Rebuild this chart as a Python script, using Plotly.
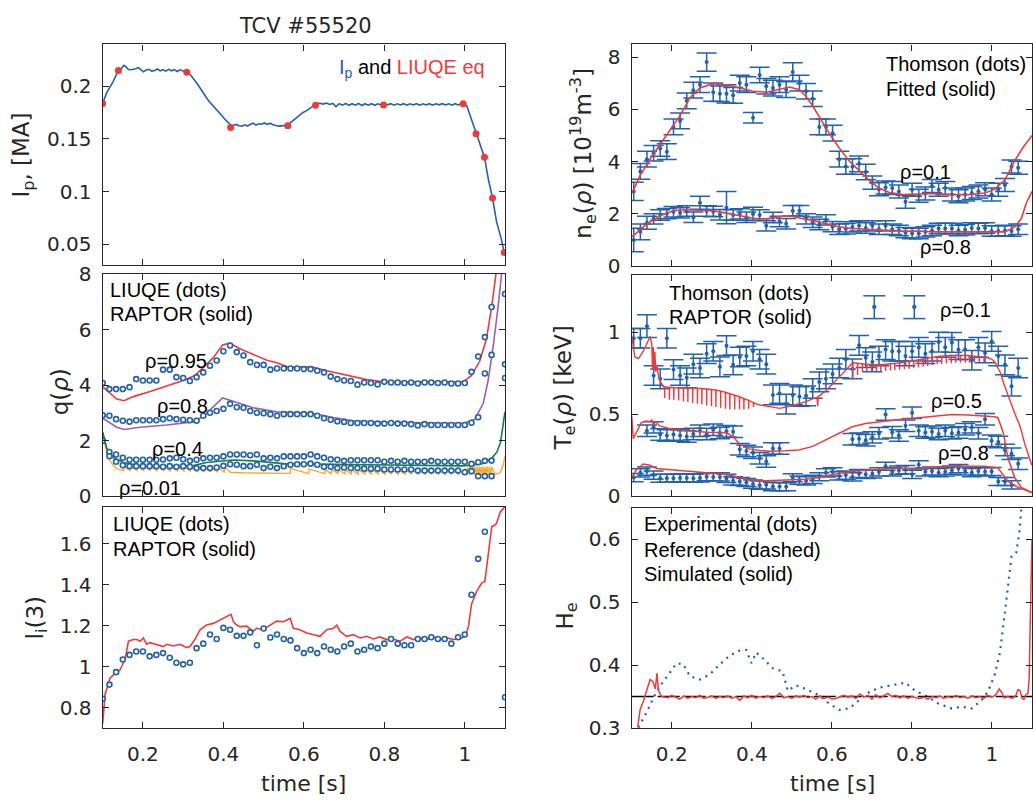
import numpy as np
import plotly.graph_objects as go

nan = float("nan")
W, H = 1033, 807
BLUE = "#2161b1"
RED = "#f03a3a"
PURPLE = "#9e5db5"
GREEN = "#1b7d3c"
ORANGE = "#ffa826"
AX = "#262626"

# ---------------- time grids ----------------
liuqe_t = [round(0.1 + i / 60, 4) for i in range(61)]
thomson_t = [round(0.105 + k * 0.01656, 4) for k in range(60)]

# ---------------- Ip panel ----------------
ip_t = [0.100,0.105,0.110,0.118,0.126,0.135,0.143,0.153,0.158,0.164,0.170,0.176,0.182,0.189,0.195,0.201,0.208,0.215,0.222,0.229,
        0.236,0.243,0.250,0.257,0.264,0.271,0.278,0.285,0.292,0.300,0.309,0.318,0.325,0.334,0.342,0.348,0.354,0.360,0.367,0.375,
        0.383,0.390,0.396,0.402,0.408,0.413,0.418,0.425,0.432,0.439,0.446,0.453,0.460,0.467,0.474,0.481,0.488,0.495,0.502,0.509,
        0.516,0.523,0.530,0.537,0.544,0.551,0.560,0.567,0.574,0.582,0.590,0.598,0.607,0.613,0.619,0.625,0.632,0.640,0.648,0.656,
        0.664,0.672,0.680,0.688,0.696,0.704,0.712,0.720,0.728,0.736,0.744,0.752,0.760,0.768,0.776,0.784,0.792,0.800,0.808,0.816,
        0.824,0.832,0.840,0.848,0.856,0.864,0.872,0.880,0.888,0.896,0.904,0.912,0.920,0.928,0.936,0.944,0.952,0.960,0.968,0.976,
        0.984,0.992,0.996,1.005,1.013,1.020,1.028,1.038,1.049,1.059,1.069,1.079,1.090,1.098,1.100]
ip_v = [0.1838,0.1900,0.1940,0.1994,0.2046,0.2120,0.2153,0.2200,0.2185,0.2160,0.2158,0.2162,0.2168,0.2178,0.2158,0.2138,0.2155,0.2162,0.2145,0.2150,
        0.2165,0.2148,0.2160,0.2145,0.2162,0.2148,0.2160,0.2142,0.2158,0.2145,0.2135,0.2110,0.2077,0.2030,0.1985,0.1950,0.1908,0.1880,0.1847,0.1815,
        0.1786,0.1750,0.1724,0.1695,0.1670,0.1648,0.1633,0.1628,0.1638,0.1625,0.1622,0.1635,0.1622,0.1640,0.1650,0.1632,0.1645,0.1640,0.1652,0.1638,
        0.1650,0.1635,0.1628,0.1622,0.1625,0.1628,0.1630,0.1655,0.1679,0.1705,0.1730,0.1752,0.1770,0.1785,0.1800,0.1815,0.1838,0.1840,0.1832,0.1842,
        0.1828,0.1838,0.1808,0.1835,0.1822,0.1838,0.1820,0.1835,0.1822,0.1838,0.1818,0.1835,0.1822,0.1836,0.1820,0.1834,0.1822,0.1836,0.1825,0.1836,
        0.1822,0.1835,0.1824,0.1836,0.1822,0.1834,0.1823,0.1836,0.1822,0.1835,0.1824,0.1836,0.1822,0.1835,0.1825,0.1836,0.1823,0.1834,0.1822,0.1836,
        0.1824,0.1838,0.1838,0.1816,0.1724,0.1640,0.1550,0.1450,0.1327,0.1110,0.0938,0.0714,0.0560,0.0420,0.0390]
ipeq_t = [0.100,0.139,0.309,0.418,0.560,0.629,0.798,0.996,1.028,1.049,1.069,1.098]
ipeq_v = [0.1838,0.2150,0.2135,0.1610,0.1627,0.1820,0.1822,0.1835,0.1550,0.1327,0.0938,0.0420]

# ---------------- q panel ----------------
q95_dots = [4.08,3.86,3.86,3.86,3.93,4.22,4.17,4.17,4.17,4.56, 4.56,4.29,4.26,4.15,4.29,4.46,4.70,4.89,5.22,5.43,
            5.19,5.07,4.83,4.73,4.73,4.56,4.60,4.60,4.60,4.60, 4.58,4.58,4.52,4.46,4.31,4.22,4.17,4.15,4.02,4.10,
            4.08,4.03,4.12,4.10,4.10,4.08,4.10,4.06,4.10,4.10, 4.08,4.10,4.06,4.06,4.08,4.48,5.03,5.73,6.81,nan, 7.28]
q80_dots = [2.92,2.90,2.78,2.72,2.69,2.74,2.74,2.74,2.74,2.78, 2.81,2.78,2.76,2.74,2.72,2.90,3.01,3.07,3.15,3.33,
            3.21,3.19,3.07,3.01,2.99,2.96,2.90,2.96,2.96,2.96, 2.96,2.96,2.90,2.81,2.76,2.70,2.68,2.64,2.64,2.64,
            2.64,2.62,2.62,2.64,2.62,2.62,2.60,2.55,2.60,2.57, 2.57,2.57,2.57,2.57,2.57,2.65,2.85,4.42,5.09,nan, 4.75]
q40_dots = [2.00,1.60,1.51,1.39,1.32,1.32,1.32,1.32,1.32,1.33, 1.37,1.39,1.34,1.28,1.32,1.37,1.39,1.39,1.44,1.51,
            1.51,1.51,1.48,1.51,1.37,1.39,1.37,1.44,1.44,1.44, 1.44,1.51,1.44,1.39,1.34,1.32,1.28,1.30,1.30,1.30,
            1.30,1.30,1.25,1.28,1.25,1.28,1.25,1.25,1.25,1.28, 1.25,1.25,1.25,1.25,1.25,1.17,1.23,1.28,1.29,nan, 4.26]
q01_dots = [2.00,1.45,1.25,1.12,1.09,1.09,1.09,1.09,1.09,1.07, 1.09,1.07,1.09,1.07,1.02,1.02,1.02,1.04,1.10,1.16,
            1.14,1.09,1.09,1.14,1.02,1.07,1.02,1.09,1.14,1.16, 1.16,1.18,1.14,1.07,1.07,1.02,1.04,1.02,1.02,1.00,
            1.00,1.00,0.97,0.97,0.97,0.97,0.97,0.93,0.93,0.93, 0.93,0.93,0.93,0.93,0.87,0.91,0.73,0.73,0.73,nan, nan]

q95_t = [0.100,0.135,0.153,0.176,0.218,0.259,0.300,0.329,0.350,0.375,0.398,0.416,0.441,0.474,0.508,0.532,0.560,0.590,0.624,0.657,
         0.690,0.723,0.756,0.798,0.880,0.996,1.005,1.017,1.037,1.054,1.067,1.077,1.083]
q95_v = [3.94,3.50,3.44,3.59,3.77,3.97,4.17,4.35,4.64,4.99,5.45,5.51,5.31,5.10,4.90,4.81,4.66,4.66,4.64,4.52,
         4.41,4.31,4.20,4.12,4.12,4.13,4.22,4.35,4.86,5.67,6.84,8.00,8.60]
q80_t = [0.100,0.135,0.153,0.193,0.259,0.329,0.358,0.398,0.424,0.474,0.532,0.590,0.624,0.673,0.723,0.798,0.996,1.025,1.046,1.058,
         1.071,1.083,1.092,1.096]
q80_v = [2.81,2.49,2.41,2.49,2.57,2.69,2.99,3.54,3.42,3.19,3.04,2.99,2.98,2.84,2.72,2.67,2.63,2.77,3.35,4.16,
         5.44,6.84,8.00,8.60]
q40_t = [0.100,0.110,0.127,0.152,0.193,0.259,0.325,0.358,0.424,0.474,0.549,0.632,0.756,0.996,1.021,1.042,1.067,1.080,1.089,1.100]
q40_v = [2.32,1.74,1.39,1.22,1.10,1.09,1.11,1.22,1.31,1.28,1.18,1.16,1.14,1.10,1.14,1.17,1.37,1.60,1.95,3.05]

# q(0.01): smooth parts plus sawtooth crashes (time, value before crash, value after crash)
q01_start_t = [0.100,0.105,0.110,0.118,0.127,0.135,0.145]
q01_start_v = [2.30,1.90,1.55,1.28,1.10,1.00,0.95]
q01_saw1_t = [0.152,0.168,0.185,0.202,0.218,0.235,0.252,0.268,0.285,0.302,0.318,0.335,0.352,0.368,0.385,0.402]
q01_saw1_lo = [0.93,0.93,0.93,0.93,0.93,0.92,0.92,0.92,0.92,0.91,0.91,0.90,0.90,0.89,0.89,0.88]
q01_saw1_hi = [1.08,1.08,1.08,1.08,1.07,1.07,1.07,1.07,1.06,1.06,1.06,1.05,1.05,1.05,1.04,1.04]
q01_mid_t = [0.418,0.450,0.500,0.550]
q01_mid_v = [0.87,0.85,0.84,0.83]
q01_saw2_t = [0.566,0.612,0.652,0.668,0.685,0.702,0.718,0.735,0.752,0.768,0.785,0.802,0.818,0.835,0.852,0.868,0.885,0.902,0.918,0.935,0.952,0.968,0.985]
q01_saw2_lo = [0.83,0.82,0.82,0.82,0.82,0.81,0.81,0.81,0.81,0.81,0.81,0.80,0.80,0.80,0.80,0.80,0.80,0.80,0.80,0.80,0.80,0.80,0.80]
q01_saw2_hi = [1.00,0.98,0.97,0.97,0.97,0.96,0.96,0.96,0.96,0.96,0.96,0.96,0.96,0.96,0.96,0.96,0.96,0.96,0.96,0.96,0.96,0.96,0.96]
q01_saw3_t = [1.000,1.006,1.012,1.018,1.024,1.030,1.036,1.042,1.048,1.054,1.060,1.066]
q01_saw3_lo = [0.79,0.78,0.78,0.78,0.78,0.78,0.78,0.78,0.78,0.78,0.78,0.78]
q01_saw3_hi = [1.02,1.06,1.08,1.08,1.08,1.08,1.08,1.08,1.08,1.08,1.08,1.07]
q01_end_t = [1.075,1.080,1.085,1.090,1.095,1.100]
q01_end_v = [0.80,0.82,0.83,0.90,1.10,1.45]

# ---------------- li panel ----------------
li_dots = [0.843,0.912,0.973,1.035,1.057,1.074,1.074,1.050,1.057,1.066, 1.043,1.019,1.011,1.019,1.090,1.112,1.157,1.135,1.189,1.180,
           1.150,1.150,1.167,1.104,1.186,1.142,1.157,1.135,1.128,1.090, 1.066,1.082,1.066,1.098,1.082,1.074,1.098,1.112,1.074,1.082,
           1.098,1.090,1.112,1.135,1.112,1.104,1.104,1.135,1.135,1.143, 1.135,1.135,1.112,1.143,1.157,1.351,1.526,1.658,nan,nan, 0.850]
li_t = [0.100,0.106,0.118,0.131,0.143,0.156,0.164,0.176,0.185,0.193,0.201,0.209,0.218,0.234,0.251,0.259,0.276,0.292,0.309,0.317,
        0.329,0.342,0.358,0.375,0.392,0.408,0.419,0.425,0.433,0.441,0.458,0.474,0.483,0.499,0.516,0.532,0.549,0.566,0.574,0.590,
        0.607,0.624,0.640,0.657,0.673,0.682,0.690,0.706,0.723,0.740,0.756,0.773,0.789,0.806,0.822,0.839,0.856,0.872,0.889,0.905,
        0.922,0.938,0.955,0.972,0.988,1.001,1.009,1.017,1.030,1.042,1.050,1.059,1.067,1.075,1.079,1.088,1.100]
li_v = [0.723,0.865,0.943,0.967,0.983,1.038,1.124,1.132,1.132,1.124,1.140,1.109,1.117,1.109,1.098,1.109,1.101,1.109,1.093,1.098,
        1.132,1.180,1.203,1.211,1.227,1.243,1.255,1.219,1.203,1.195,1.198,1.172,1.187,1.180,1.203,1.222,1.219,1.235,1.187,1.180,
        1.164,1.156,1.148,1.180,1.187,1.203,1.172,1.148,1.156,1.140,1.148,1.135,1.145,1.132,1.135,1.124,1.145,1.132,1.140,1.132,
        1.145,1.132,1.140,1.132,1.135,1.148,1.195,1.306,1.369,1.408,1.416,1.557,1.683,1.691,1.699,1.754,1.781]

# ---------------- ne panel ----------------
ne01_ts = [2.85,3.62,4.09,4.32,4.50,4.38,5.33,5.56,6.33,6.74, 6.95,7.82,6.66,6.60,6.60,6.54,7.01,6.95,5.68,7.32,
           6.89,6.82,6.95,6.76,7.44,7.01,6.70,6.41,5.33,5.33, 5.09,4.09,3.81,3.81,3.91,3.60,3.19,2.94,3.00,2.98,
           2.85,2.46,2.92,2.69,2.77,3.06,2.92,2.98,2.73,2.67, 2.73,2.79,2.85,2.94,2.73,2.92,3.10,3.81,3.76,nan]
ne01_err = [0.35,0.30,0.30,0.30,0.30,0.30,0.30,0.30,0.30,0.30, 0.30,0.35,0.35,0.30,0.35,0.30,0.30,0.30,0.20,0.30,
            0.30,0.30,0.30,0.30,0.35,0.30,0.30,0.30,0.30,0.30, 0.30,0.30,0.30,0.30,0.30,0.30,0.25,0.25,0.25,0.25,
            0.25,0.25,0.25,0.25,0.25,0.25,0.25,0.25,0.25,0.25, 0.25,0.25,0.25,0.25,0.25,0.25,0.25,0.25,0.25,0.25]
ne08_ts = [0.99,1.30,1.65,1.80,1.95,2.00,2.07,2.03,2.10,1.86, 2.42,2.10,2.08,1.96,2.23,1.95,1.99,1.86,1.99,1.95,
           1.53,1.85,1.70,1.61,2.11,2.11,1.80,1.67,1.58,1.76, 1.50,1.40,1.42,1.49,1.53,1.45,1.53,1.40,1.53,1.40,
           1.35,1.27,1.24,1.24,1.30,1.35,1.43,1.43,1.43,1.35, 1.38,1.45,1.43,1.45,1.33,1.33,1.35,1.33,1.40,nan]
ne08_err = [0.45,0.30,0.25,0.20,0.20,0.20,0.20,0.20,0.20,0.20, 0.25,0.20,0.20,0.20,0.62,0.20,0.20,0.20,0.25,0.20,
            0.20,0.20,0.20,0.20,0.20,0.20,0.20,0.20,0.20,0.20, 0.20,0.20,0.20,0.20,0.20,0.20,0.20,0.20,0.20,0.20,
            0.20,0.20,0.20,0.20,0.20,0.20,0.20,0.20,0.20,0.20, 0.20,0.20,0.20,0.20,0.20,0.20,0.20,0.20,0.20,0.20]
ne01_fit_t = [0.101,0.121,0.154,0.188,0.221,0.246,0.270,0.303,0.337,0.370,0.403,0.436,0.469,0.494,0.519,0.535,0.552,0.568,0.593,0.618,
              0.643,0.668,0.693,0.717,0.742,0.775,0.817,0.858,0.900,0.941,0.982,1.007,1.032,1.057,1.077,1.100]
ne01_fit_v = [2.79,3.47,4.28,5.02,5.77,6.45,6.82,6.99,6.95,6.82,6.70,6.66,6.76,6.86,6.76,6.51,6.14,5.71,5.09,4.53,
              4.03,3.66,3.29,2.98,2.82,2.73,2.75,2.77,2.73,2.73,2.79,2.94,3.29,4.03,4.53,5.00]
ne08_fit_t = [0.101,0.138,0.171,0.204,0.229,0.262,0.303,0.337,0.370,0.403,0.436,0.477,0.502,0.527,0.552,0.585,0.618,0.651,0.693,0.734,
              0.775,0.817,0.858,0.900,0.941,0.982,1.032,1.057,1.073,1.086,1.100]
ne08_fit_v = [1.12,1.61,1.92,2.11,2.15,2.12,2.11,2.02,1.92,1.82,1.80,1.90,1.90,1.80,1.74,1.61,1.49,1.43,1.40,1.36,
              1.33,1.33,1.30,1.30,1.30,1.28,1.30,1.49,1.80,2.42,2.85]

# ---------------- Te panel ----------------
te01_ts = [0.964,0.964,1.038,0.737,0.717,0.964,0.773,0.737,0.723,0.806, 0.783,0.870,0.885,0.790,0.919,0.802,0.850,0.856,0.885,0.836,
           0.806,0.619,0.628,0.563,0.619,0.609,0.613,0.658,0.698,0.717, 0.747,0.783,0.836,0.777,0.921,0.846,0.820,0.856,0.895,0.885,
           0.885,0.856,0.885,0.909,0.870,0.885,0.941,0.909,0.939,0.895, 0.895,0.830,0.909,0.875,0.945,0.856,0.802,0.672,0.783,nan]
te05_ts = [nan,nan,0.401,0.421,0.377,0.372,0.377,0.372,0.366,0.381, 0.401,0.381,0.407,0.387,0.397,0.395,0.287,0.277,0.267,0.233,
           0.213,0.292,0.292,nan,nan,nan,nan,nan,nan,nan, nan,nan,nan,0.348,0.352,0.343,0.360,0.385,0.500,0.391,
           0.372,0.431,0.510,0.401,0.390,0.395,0.380,0.400,0.385,0.390, 0.410,0.421,0.385,0.470,0.340,0.332,0.283,0.260,0.200,nan]
te08_ts = [0.115,0.144,0.154,0.130,0.111,0.111,0.111,0.113,0.113,0.111, 0.113,0.120,0.119,0.119,0.110,0.095,0.091,0.085,0.075,0.069,
           0.071,0.060,0.060,0.059,0.114,0.100,0.095,0.104,0.120,0.144, 0.150,0.125,0.130,0.119,0.140,0.135,0.138,0.150,0.184,0.150,
           0.160,0.164,0.134,0.193,0.150,0.155,0.145,0.150,0.160,0.170, 0.155,0.145,0.155,0.150,0.152,0.091,0.091,0.070,nan,nan]
te01_err = [0.06,0.06,0.07,0.06,0.06,0.06,0.06,0.06,0.06,0.06, 0.06,0.06,0.06,0.06,0.06,0.06,0.06,0.06,0.06,0.06,
            0.06,0.06,0.06,0.06,0.06,0.06,0.06,0.06,0.06,0.06, 0.06,0.06,0.06,0.06,0.06,0.06,0.06,0.06,0.06,0.06,
            0.06,0.06,0.06,0.06,0.06,0.06,0.06,0.06,0.06,0.06, 0.06,0.06,0.06,0.06,0.06,0.06,0.06,0.06,0.06,0.06]
te05_err = [0.035] * 60
te08_err = [0.025] * 60

te01_start_t = [0.100,0.108,0.117,0.130,0.146,0.150,0.152,0.154,0.156,0.158,0.160,0.163,0.167,0.172,0.178]
te01_start_v = [0.980,0.850,0.840,0.890,0.975,0.930,0.780,0.910,0.770,0.880,0.760,0.800,0.730,0.700,0.670]
te01_comb1_t = [0.182,0.194,0.205,0.217,0.229,0.240,0.252,0.264,0.275,0.287,0.299,0.310,0.322,0.334,0.345,0.357,0.369,0.380,0.392,0.404]
te01_comb1_top = [0.668,0.665,0.663,0.662,0.660,0.660,0.660,0.660,0.658,0.655,0.652,0.648,0.642,0.635,0.626,0.617,0.607,0.597,0.585,0.572]
te01_comb1_bot = [0.600,0.590,0.590,0.585,0.580,0.575,0.570,0.565,0.560,0.555,0.550,0.545,0.540,0.535,0.530,0.530,0.530,0.530,0.535,0.545]
te01_mid_t = [0.415,0.440,0.470,0.500,0.535,0.563,0.5645,0.566,0.585,0.600,0.618,0.635,0.648]
te01_mid_v = [0.560,0.548,0.537,0.553,0.578,0.605,0.550,0.608,0.645,0.680,0.725,0.770,0.800]
te01_comb2_t = [0.652,0.664,0.676,0.687,0.699,0.711,0.722,0.734,0.746,0.757,0.769,0.781,0.793,0.804,0.816,0.828,0.839,0.851,0.863,0.874,
                0.886,0.898,0.909,0.921,0.933,0.944,0.956,0.968,0.980]
te01_comb2_top = [0.815,0.812,0.808,0.805,0.803,0.803,0.804,0.806,0.808,0.811,0.815,0.819,0.823,0.828,0.833,0.838,0.843,0.848,0.852,0.855,
                  0.858,0.860,0.861,0.861,0.860,0.858,0.855,0.852,0.848]
te01_comb2_bot = [0.720,0.740,0.760,0.765,0.760,0.765,0.765,0.765,0.768,0.770,0.772,0.775,0.778,0.782,0.786,0.790,0.795,0.800,0.805,0.808,
                  0.810,0.812,0.815,0.815,0.815,0.815,0.815,0.815,0.820]
te01_end_t = [0.990,1.000,1.007,1.015,1.020,1.032,1.045,1.058,1.070,1.082,1.094,1.100]
te01_end_v = [0.845,0.835,0.820,0.780,0.760,0.670,0.580,0.500,0.430,0.320,0.230,0.190]

te05_t = [0.100,0.104,0.112,0.124,0.135,0.145,0.150,0.155,0.160,0.170,0.200,0.237,0.287,0.337,0.353,0.370,0.394,0.419,0.452,0.485,
          0.518,0.552,0.585,0.618,0.651,0.684,0.717,0.775,0.817,0.858,0.900,0.941,0.982,1.007,1.015,1.028,1.040,1.057,1.073,1.100]
te05_v = [0.490,0.352,0.390,0.450,0.460,0.455,0.465,0.440,0.455,0.430,0.410,0.401,0.391,0.388,0.365,0.318,0.290,0.280,0.275,0.278,
          0.283,0.305,0.345,0.390,0.425,0.445,0.455,0.470,0.480,0.490,0.500,0.496,0.490,0.486,0.480,0.390,0.233,0.115,0.055,0.024]
te08_t = [0.100,0.112,0.129,0.146,0.162,0.187,0.237,0.287,0.337,0.370,0.403,0.436,0.486,0.535,0.568,0.601,0.651,0.701,0.750,0.817,
          0.900,0.982,1.007,1.015,1.040,1.065,1.100]
te08_v = [0.115,0.164,0.198,0.190,0.170,0.164,0.154,0.144,0.134,0.115,0.099,0.095,0.099,0.105,0.115,0.134,0.154,0.164,0.170,0.174,
          0.184,0.184,0.178,0.174,0.091,0.055,0.024]

# ---------------- He panel ----------------
he_exp_t = [0.117,0.138,0.159,0.179,0.200,0.212,0.229,0.246,0.270,0.295,0.320,0.345,0.370,0.386,0.399,0.411,0.424,0.452,0.477,0.490,
            0.510,0.535,0.568,0.593,0.618,0.643,0.659,0.684,0.717,0.742,0.784,0.808,0.833,0.866,0.900,0.924,0.949,0.974,0.991,1.007,
            1.020,1.032,1.040,1.049,1.061,1.069,1.073,1.077]
he_exp_v = [0.301,0.326,0.354,0.374,0.392,0.403,0.401,0.382,0.377,0.385,0.401,0.415,0.423,0.424,0.403,0.420,0.413,0.395,0.390,0.359,
            0.368,0.362,0.352,0.339,0.329,0.331,0.339,0.354,0.364,0.367,0.372,0.359,0.352,0.339,0.331,0.334,0.331,0.344,0.359,0.385,
            0.420,0.482,0.528,0.573,0.579,0.614,0.645,0.665]
he_sim_t = [0.115,0.121,0.130,0.140,0.146,0.153,0.159,0.163,0.167,0.175,0.19,0.20,0.21,0.22,0.23,0.24,0.25,0.26,0.27,0.28,
            0.29,0.30,0.31,0.32,0.33,0.34,0.35,0.36,0.37,0.38,0.39,0.40,0.41,0.42,0.43,0.44,0.45,0.46,0.47,0.48,
            0.49,0.50,0.51,0.52,0.53,0.54,0.55,0.56,0.57,0.58,0.59,0.60,0.61,0.62,0.63,0.64,0.65,0.66,0.67,0.68,
            0.69,0.70,0.71,0.72,0.73,0.74,0.75,0.76,0.77,0.78,0.79,0.80,0.81,0.82,0.83,0.84,0.85,0.86,0.87,0.88,
            0.89,0.90,0.91,0.92,0.93,0.94,0.95,0.96,0.97,0.98,0.99,1.00,1.01,1.018,1.025,1.03,1.04,1.05,1.06,1.065,
            1.07,1.075,1.08,1.085,1.09,1.093,1.095,1.097,1.100]
he_sim_v = [0.301,0.329,0.344,0.364,0.377,0.374,0.362,0.387,0.359,0.350,0.348,0.352,0.349,0.346,0.351,0.347,0.350,0.348,0.352,0.347,
            0.349,0.351,0.347,0.350,0.348,0.351,0.347,0.350,0.344,0.351,0.348,0.352,0.347,0.350,0.348,0.351,0.347,0.350,0.355,0.348,
            0.350,0.347,0.351,0.349,0.352,0.348,0.350,0.346,0.351,0.347,0.349,0.346,0.347,0.350,0.352,0.349,0.351,0.347,0.354,0.349,
            0.352,0.346,0.353,0.348,0.352,0.355,0.350,0.352,0.348,0.351,0.347,0.350,0.348,0.347,0.349,0.346,0.350,0.348,0.351,0.347,
            0.350,0.348,0.352,0.348,0.350,0.347,0.351,0.348,0.350,0.347,0.352,0.349,0.353,0.362,0.356,0.348,0.350,0.347,0.352,0.361,
            0.360,0.347,0.346,0.353,0.355,0.380,0.450,0.520,0.600]
he_ref_t = [0.1, 1.1]
he_ref_v = [0.35, 0.35]


# ---------------- helpers ----------------
def saw_line(t_list, lo_list, hi_list):
    t, v = [], []
    for tk, lo, hi in zip(t_list, lo_list, hi_list):
        t += [tk, tk + 0.001]
        v += [lo, hi]
    return t, v


def comb_line(t_list, top_list, bot_list):
    t, v = [], []
    for tk, top, bot in zip(t_list, top_list, bot_list):
        t += [tk, tk + 0.0003, tk + 0.0006]
        v += [top, bot, top]
    return t, v


s1t, s1v = saw_line(q01_saw1_t, q01_saw1_lo, q01_saw1_hi)
s2t, s2v = saw_line(q01_saw2_t, q01_saw2_lo, q01_saw2_hi)
s3t, s3v = saw_line(q01_saw3_t, q01_saw3_lo, q01_saw3_hi)
q01_t = q01_start_t + s1t + q01_mid_t + s2t + s3t + q01_end_t
q01_v = q01_start_v + s1v + q01_mid_v + s2v + s3v + q01_end_v

c1t, c1v = comb_line(te01_comb1_t, te01_comb1_top, te01_comb1_bot)
c2t, c2v = comb_line(te01_comb2_t, te01_comb2_top, te01_comb2_bot)
te01_t = te01_start_t + c1t + te01_mid_t + c2t + te01_end_t
te01_v = te01_start_v + c1v + te01_mid_v + c2v + te01_end_v

# ---------------- figure ----------------
fig = go.Figure()


def line(x, y, color, ax, width=1.5, dash=None):
    fig.add_trace(go.Scatter(x=x, y=y, mode="lines", line=dict(color=color, width=width, dash=dash),
                             xaxis="x" + ax, yaxis="y" + ax, showlegend=False, hoverinfo="skip"))


def ring_dots(x, y, ax):
    fig.add_trace(go.Scatter(x=x, y=y, mode="markers",
                             marker=dict(symbol="circle", size=5, color="white", line=dict(color=BLUE, width=1.6)),
                             xaxis="x" + ax, yaxis="y" + ax, showlegend=False, hoverinfo="skip"))


def ts_dots(x, y, err, ax):
    fig.add_trace(go.Scatter(x=x, y=y, mode="markers", marker=dict(size=4, color=BLUE),
                             error_y=dict(type="data", array=err, color=BLUE, thickness=1.5, width=10),
                             xaxis="x" + ax, yaxis="y" + ax, showlegend=False, hoverinfo="skip"))


# Ip
line(ip_t, ip_v, BLUE, "", 1.6)
fig.add_trace(go.Scatter(x=ipeq_t, y=ipeq_v, mode="markers", marker=dict(size=7, color=RED),
                         xaxis="x", yaxis="y", showlegend=False, hoverinfo="skip"))
# q
line(q01_t, q01_v, ORANGE, "2", 1.4)
line(q40_t, q40_v, GREEN, "2", 1.6)
line(q80_t, q80_v, PURPLE, "2", 1.6)
line(q95_t, q95_v, RED, "2", 1.6)
for qd in (q95_dots, q80_dots, q40_dots, q01_dots):
    ring_dots(liuqe_t, qd, "2")
# li
line(li_t, li_v, RED, "3", 1.6)
ring_dots(liuqe_t, li_dots, "3")
# ne
ts_dots(thomson_t, ne01_ts, ne01_err, "4")
ts_dots(thomson_t, ne08_ts, ne08_err, "4")
line(ne01_fit_t, ne01_fit_v, RED, "4", 1.6)
line(ne08_fit_t, ne08_fit_v, RED, "4", 1.6)
# Te
ts_dots(thomson_t, te01_ts, te01_err, "5")
ts_dots(thomson_t, te05_ts, te05_err, "5")
ts_dots(thomson_t, te08_ts, te08_err, "5")
line(te01_t, te01_v, RED, "5", 1.4)
line(te05_t, te05_v, RED, "5", 1.5)
line(te08_t, te08_v, RED, "5", 1.5)
# He
line(he_exp_t, he_exp_v, BLUE, "6", 2.2, "2px,5px")
line(he_ref_t, he_ref_v, "black", "6", 1.5, "22px,4px")
line(he_sim_t, he_sim_v, RED, "6", 1.5)

# ---------------- axes ----------------
def dx(a, b):
    return [a / W, b / W]


def dy(top, bottom):
    return [1 - bottom / H, 1 - top / H]


LEFT = dx(102.7, 505)
RIGHT = dx(631.7, 1032)
panels = [
    ("", LEFT, dy(33.3, 261), [0.03, 0.24], [0.05, 0.1, 0.15, 0.2], ["0.05", "0.1", "0.15", "0.2"], False),
    ("2", LEFT, dy(270, 499.3), [0, 8], [0, 2, 4, 6, 8], ["0", "2", "4", "6", "8"], False),
    ("3", LEFT, dy(510, 738), [0.7, 1.78], [0.8, 1.0, 1.2, 1.4, 1.6], ["0.8", "1", "1.2", "1.4", "1.6"], True),
    ("4", RIGHT, dy(33.3, 261.5), [0, 8.5], [0, 2, 4, 6, 8], ["0", "2", "4", "6", "8"], False),
    ("5", RIGHT, dy(271, 499.3), [0, 1.35], [0, 0.5, 1.0], ["0", "0.5", "1"], False),
    ("6", RIGHT, dy(510.7, 738), [0.3, 0.65], [0.3, 0.4, 0.5, 0.6], ["0.3", "0.4", "0.5", "0.6"], True),
]
tickfont = dict(family="DejaVu Sans", size=20, color=AX)
xt_vals = [0.2, 0.4, 0.6, 0.8, 1.0]
xt_text = ["0.2", "0.4", "0.6", "0.8", "1"]
common = dict(showline=True, linecolor=AX, linewidth=1.4, mirror="ticks", ticks="inside", ticklen=6,
              tickwidth=1.2, tickcolor=AX, showgrid=False, zeroline=False, tickfont=tickfont, fixedrange=True)
for ax, xd, yd, yr, yv, yt, xlabels in panels:
    fig.update_layout(**{
        "xaxis" + ax: dict(domain=xd, range=[0.1, 1.1], anchor="y" + ax, tickvals=xt_vals, ticktext=xt_text,
                           showticklabels=xlabels, ticklabelstandoff=8, **common),
        "yaxis" + ax: dict(domain=yd, range=yr, anchor="x" + ax, tickvals=yv, ticktext=yt,
                           ticklabelstandoff=6, **common),
    })

# ---------------- text ----------------
ann = []
TF = "Liberation Sans, Arial, sans-serif"


def text(x, y, s, size=20, color="black", xanchor="left", angle=0, family=TF):
    ann.append(dict(x=x / W, y=1 - y / H, xref="paper", yref="paper", text=s, showarrow=False,
                    xanchor=xanchor, yanchor="middle", textangle=angle,
                    font=dict(family=family, size=size, color=color)))


DV = "DejaVu Sans"
text(305, 14, "TCV #55520", 21, AX, "center", family=DV)
# y titles
text(23, 148, "I<sub>p</sub>, [MA]", 23, AX, "center", -90, DV)
text(60, 392, "q(<i>ρ</i>)", 23, AX, "center", -90, DV)
text(37, 625, "l<sub>i</sub>(3)", 23, AX, "center", -90, DV)
text(583, 146, "n<sub>e</sub>(<i>ρ</i>) [10<sup>19</sup>m<sup>-3</sup>]", 23, AX, "center", -90, DV)
text(565, 388, "T<sub>e</sub>(<i>ρ</i>) [keV]", 23, AX, "center", -90, DV)
text(567, 623, "H<sub>e</sub>", 23, AX, "center", -90, DV)
text(303, 795, "time [s]", 22, AX, "center", family=DV)
text(832, 795, "time [s]", 22, AX, "center", family=DV)
# in-panel labels
text(487, 58, '<span style="color:%s">I<sub>p</sub></span> and <span style="color:%s">LIUQE eq</span>' % (BLUE, RED),
     20, "black", "right")
text(108, 287, "LIUQE (dots)")
text(108, 311, "RAPTOR (solid)")
text(143, 360, "ρ=0.95")
text(155, 406, "ρ=0.8")
text(150, 450, "ρ=0.4")
text(117, 491, "ρ=0.01")
text(111, 528, "LIUQE (dots)")
text(111, 553, "RAPTOR (solid)")
text(884, 54, "Thomson (dots)")
text(884, 79, "Fitted (solid)")
text(898, 165, "ρ=0.1")
text(918, 242, "ρ=0.8")
text(667, 290, "Thomson (dots)")
text(667, 314, "RAPTOR (solid)")
text(938, 307, "ρ=0.1")
text(929, 401, "ρ=0.5")
text(936, 455, "ρ=0.8")
text(642, 528, "Experimental (dots)")
text(642, 554, "Reference (dashed)")
text(642, 579, "Simulated (solid)")

# legend glyphs (error-bar symbols) in the Te panel
shapes = []
for gx in (874.3, 914.3):
    x0, x1 = (gx - 11) / W, (gx + 11) / W
    yt, yb, yc = 1 - 292.5 / H, 1 - 316 / H, 1 - 304 / H
    shapes.append(dict(type="line", xref="paper", yref="paper", x0=gx / W, x1=gx / W, y0=yb, y1=yt,
                       line=dict(color=BLUE, width=1.5)))
    for yy in (yt, yb):
        shapes.append(dict(type="line", xref="paper", yref="paper", x0=x0, x1=x1, y0=yy, y1=yy,
                           line=dict(color=BLUE, width=1.5)))
    shapes.append(dict(type="circle", xref="paper", yref="paper", x0=(gx - 2.2) / W, x1=(gx + 2.2) / W,
                       y0=yc - 2.2 / H, y1=yc + 2.2 / H, fillcolor=BLUE, line=dict(color=BLUE, width=0)))

fig.update_layout(width=W, height=H, margin=dict(l=0, r=0, t=0, b=0), paper_bgcolor="white",
                  plot_bgcolor="white", annotations=ann, shapes=shapes, showlegend=False)

fig.write_html("out.html")
